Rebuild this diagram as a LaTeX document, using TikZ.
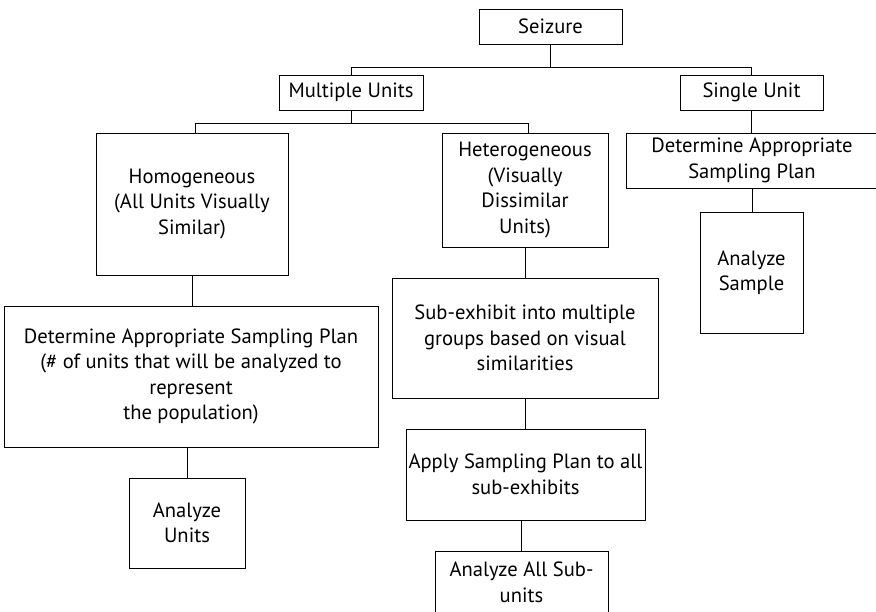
\documentclass[tikz,border=0pt]{standalone}
\usepackage{fontspec}
\setmainfont{PT Sans}
\begin{document}
\begin{tikzpicture}[x=1pt,y=-1pt,
  box/.style={draw, line width=0.9pt, inner sep=0pt, align=center,
    font=\fontsize{20.6}{25.5}\selectfont},
  link/.style={line width=0.9pt}]
\useasboundingbox (0,0) rectangle (876,612);
\begin{scope}
\clip (0,0) rectangle (876,612);
% top levels
\node[box, minimum width=143, minimum height=35] (seizure) at (550.5,26.5) {Seizure};
\node[box, minimum width=144, minimum height=35] (multi) at (351,92.5) {Multiple Units};
\node[box, minimum width=143, minimum height=35] (single) at (751.5,92.5) {Single Unit};
% multiple-units branch
\node[box, minimum width=192, minimum height=142] (homo) at (192,204)
  {Homogeneous\\(All Units Visually\\Similar)};
\node[box, minimum width=166, minimum height=114] (hetero) at (525,190)
  {Heterogeneous\\(Visually\\Dissimilar\\Units)};
\node[box, minimum width=374, minimum height=141] (plan1) at (191,376.5)
  {Determine Appropriate Sampling Plan\\(\# of units that will be analyzed to\\represent\\the population)};
\node[box, minimum width=116, minimum height=90] (units) at (187,523)
  {Analyze\\Units};
\node[box, minimum width=266, minimum height=120] (sub) at (525,338)
  {Sub-exhibit into multiple\\groups based on visual\\similarities};
\node[box, minimum width=239, minimum height=91] (apply) at (525.5,474.5)
  {Apply Sampling Plan to all\\sub-exhibits};
\node[box, minimum width=173, minimum height=63] (all) at (521.5,582.5)
  {Analyze All Sub-\\units};
% single-unit branch
\node[box, minimum width=252, minimum height=55] (plan2) at (752,160.5)
  {Determine Appropriate\\Sampling Plan};
\node[box, minimum width=103, minimum height=121] (sample) at (751.5,272.5)
  {Analyze\\Sample};
% connectors
\draw[link] (seizure.south) -- (seizure.south |- 0,67);
\draw[link] (multi.north) -- (multi.north |- 0,67) -| (single.north);
\draw[link] (multi.south) -- (multi.south |- 0,123);
\draw[link] ([xshift=3]homo.north) -- ([xshift=3]homo.north |- 0,123) -| ([xshift=3]hetero.north);
\draw[link] (homo.south) -- (plan1.north -| homo.south);
\draw[link] (units.north) -- (units.north |- plan1.south);
\draw[link] (hetero.south) -- (sub.north -| hetero.south);
\draw[link] (sub.south) -- (apply.north -| sub.south);
\draw[link] (all.north) -- (all.north |- apply.south);
\draw[link] (single.south) -- (plan2.north -| single.south);
\draw[link] (plan2.south) -- (sample.north -| plan2.south);
\end{scope}
\end{tikzpicture}
\end{document}
